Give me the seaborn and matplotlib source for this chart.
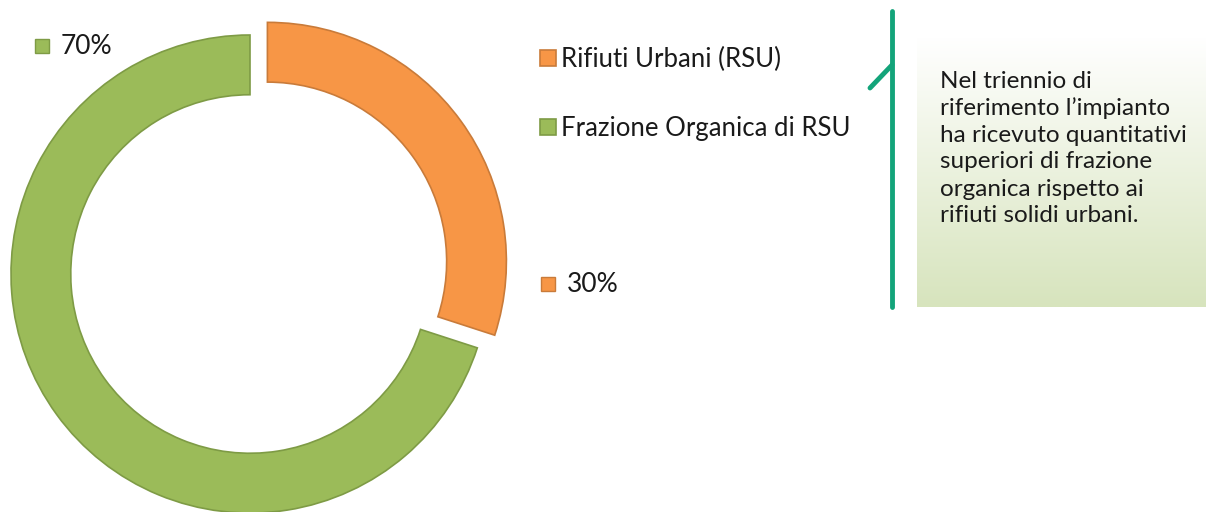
import numpy as np
import seaborn as sns
import matplotlib
import matplotlib.pyplot as plt
from matplotlib.colors import LinearSegmentedColormap

matplotlib.use('agg')

# data
categories = ["Rifiuti Urbani (RSU)", "Frazione Organica di RSU"]
shares = [30, 70]
pct_labels = ["30%", "70%"]
note_lines = [
    "Nel triennio di",
    "riferimento l\u2019impianto",
    "ha ricevuto quantitativi",
    "superiori di frazione",
    "organica rispetto ai",
    "rifiuti solidi urbani.",
]

colors = ["#F79646", "#9BBB59"]
edges = ["#C97B3A", "#7E9B45"]

sns.set_theme(style="white")
plt.rcParams['font.family'] = ['Lato', 'DejaVu Sans']

W, H = 1206, 512
fig = plt.figure(figsize=(W / 100, H / 100), dpi=100)
fig.patch.set_facecolor("white")

# donut axes: centre at pixel (250, 274 from top), radius 239 px
R = 239.0
cx, cy = 250.0, H - 274.0
ax_w = 540
ax = fig.add_axes([0, 0, ax_w / W, 1])
wedges, _ = ax.pie(shares, colors=colors, startangle=90, counterclock=False,
                   explode=[0.09, 0], radius=1.0,
                   wedgeprops=dict(width=0.25, linewidth=1.2))
for w, ec in zip(wedges, edges):
    w.set_edgecolor(ec)
ax.set_xlim((0 - cx) / R, (ax_w - cx) / R)
ax.set_ylim((0 - cy) / R, (H - cy) / R)
ax.set_aspect('auto')
ax.axis('off')

# percentage labels with small square markers
lab_pos = [(548, 284), (42, 46)]
for (px, py), lab, c, ec in zip(lab_pos, pct_labels, colors, edges):
    fig.patches.append(plt.Rectangle(((px - 7) / W, 1 - (py + 7) / H), 14 / W, 14 / H,
                                     transform=fig.transFigure, facecolor=c,
                                     edgecolor=ec, linewidth=1))
    fig.text((px + 19) / W, 1 - py / H, lab, fontsize=19, va='center', ha='left',
             color="#1a1a1a")

# legend
leg = fig.legend(wedges, categories, loc='upper left',
                 bbox_to_anchor=(530 / W, 1 - 37 / H), frameon=False,
                 fontsize=18.5, handlelength=0.6, handleheight=0.6,
                 handletextpad=0.2, labelspacing=1.7, borderaxespad=0)
for t in leg.get_texts():
    t.set_color("#1a1a1a")

# callout box with gradient
box = fig.add_axes([917 / W, 1 - 307 / H, (W - 917) / W, (307 - 37) / H])
cmap = LinearSegmentedColormap.from_list("g", ["#FFFFFF", "#D7E4BD"])
grad = np.linspace(0, 1, 256).reshape(-1, 1)
box.imshow(grad, aspect='auto', cmap=cmap, extent=[0, 1, 1, 0])
box.axis('off')

line_col = "#13A47A"
fig.add_artist(plt.Line2D([892 / W, 892 / W], [1 - 11 / H, 1 - 307 / H],
                          color=line_col, linewidth=3.5, transform=fig.transFigure))
fig.add_artist(plt.Line2D([892 / W, 870 / W], [1 - 65 / H, 1 - 88 / H],
                          color=line_col, linewidth=3.5, transform=fig.transFigure))

for i, line in enumerate(note_lines):
    fig.text(940 / W, 1 - (81 + i * 27) / H, line, fontsize=17.5, va='center',
             ha='left', color="#1a1a1a")

fig.savefig("out.png", dpi=100)
